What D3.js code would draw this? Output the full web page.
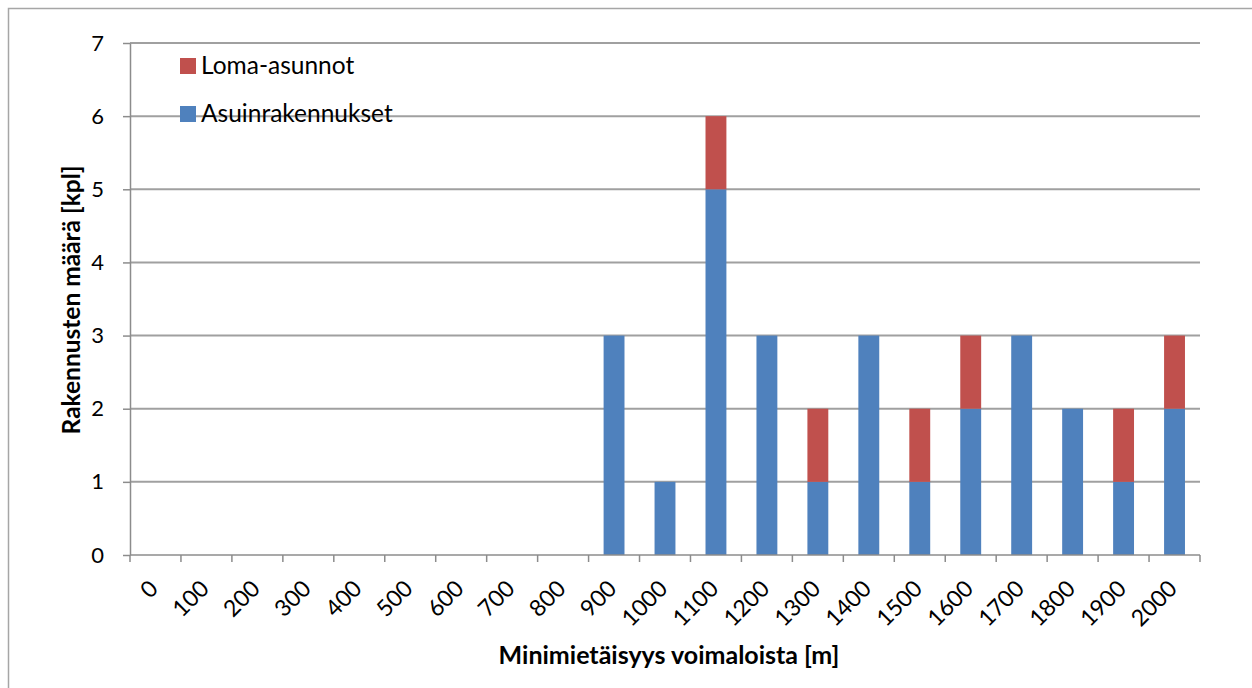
<!DOCTYPE html>
<html><head><meta charset="utf-8">
<script src="https://cdn.jsdelivr.net/npm/d3@7"></script>
<style>
html,body{margin:0;padding:0;background:#fff;}
svg{display:block;font-family:Lato,"Open Sans",sans-serif;}
</style></head>
<body>
<svg id="chart" width="1252" height="688"></svg>
<script>
const categories = ["0","100","200","300","400","500","600","700","800","900","1000","1100","1200","1300","1400","1500","1600","1700","1800","1900","2000"];
const asuinrakennukset = [0,0,0,0,0,0,0,0,0,3,1,5,3,1,3,1,2,3,2,1,2];
const lomaAsunnot      = [0,0,0,0,0,0,0,0,0,0,0,1,0,1,0,1,1,0,0,1,1];
const seriesNames = ["Asuinrakennukset","Loma-asunnot"];
const yTicks = [0,1,2,3,4,5,6,7];
const colors = {"Asuinrakennukset":"#4F81BD","Loma-asunnot":"#C0504D"};

const svg = d3.select("#chart");
const m = {left:130, right:1200, top:43, bottom:555};

// outer chart border
svg.append("rect").attr("x",8.5).attr("y",8.5).attr("width",1300).attr("height",800)
  .attr("fill","none").attr("stroke","#a6a6a6").attr("stroke-width",1.5);

const x = d3.scaleBand().domain(categories).range([m.left,m.right]).paddingInner(0.59).paddingOuter(0.295);
const y = d3.scaleLinear().domain([0,7]).range([m.bottom,m.top]);

// gridlines
svg.append("g").selectAll("line").data(yTicks.filter(d=>d>0)).join("line")
  .attr("x1",m.left).attr("x2",m.right).attr("y1",d=>y(d)).attr("y2",d=>y(d))
  .attr("stroke","#a0a0a0").attr("stroke-width",2);

// stacked data
const rows = categories.map((c,i)=>({cat:c,"Asuinrakennukset":asuinrakennukset[i],"Loma-asunnot":lomaAsunnot[i]}));
const stack = d3.stack().keys(seriesNames)(rows);
svg.append("g").selectAll("g").data(stack).join("g").attr("fill",d=>colors[d.key])
  .selectAll("rect").data(d=>d.filter(v=>v[1]-v[0]>0)).join("rect")
  .attr("x",d=>x(d.data.cat)).attr("width",x.bandwidth())
  .attr("y",d=>y(d[1])).attr("height",d=>y(d[0])-y(d[1]));

// y axis
const yAxis = d3.axisLeft(y).tickValues(yTicks).tickFormat(d3.format("d")).tickSize(7).tickSizeOuter(0).tickPadding(19);
const gy = svg.append("g").attr("transform",`translate(${m.left},0)`).call(yAxis);
gy.select(".domain").attr("stroke","#8c8c8c").attr("stroke-width",1.5);
gy.selectAll(".tick line").attr("stroke","#8c8c8c").attr("stroke-width",1.5);
gy.selectAll(".tick text").attr("font-size",22).attr("fill","#000").attr("font-family","Lato");

// x axis
const step = x.step();
const gx = svg.append("g").attr("transform",`translate(0,${m.bottom})`);
gx.append("line").attr("x1",m.left).attr("x2",m.right).attr("y1",0).attr("y2",0)
  .attr("stroke","#8c8c8c").attr("stroke-width",1.5);
const tickPos = d3.range(categories.length+1).map(i=>m.left + i*step);
gx.selectAll("line.t").data(tickPos).join("line").attr("class","t")
  .attr("x1",d=>d).attr("x2",d=>d).attr("y1",0).attr("y2",7)
  .attr("stroke","#8c8c8c").attr("stroke-width",1.5);
gx.selectAll("text").data(categories).join("text")
  .attr("transform",d=>`translate(${x(d)+x.bandwidth()/2+4},${35}) rotate(-45)`)
  .attr("text-anchor","end").attr("font-size",23).attr("fill","#000")
  .text(d=>d);

// axis titles
svg.append("text").attr("x",(m.left+m.right)/2+4).attr("y",664)
  .attr("text-anchor","middle").attr("font-weight","bold").attr("font-size",25)
  .text("Minimietäisyys voimaloista [m]");
svg.append("text").attr("transform","translate(80,300) rotate(-90)")
  .attr("text-anchor","middle").attr("font-weight","bold").attr("font-size",24.5)
  .text("Rakennusten määrä [kpl]");

// legend
const legendItems = ["Loma-asunnot","Asuinrakennukset"];
const lg = svg.append("g").selectAll("g").data(legendItems).join("g")
  .attr("transform",(d,i)=>`translate(180,${58+i*48})`);
lg.append("rect").attr("width",16).attr("height",16).attr("fill",d=>colors[d]);
lg.append("text").attr("x",21).attr("y",16).attr("font-size",24.5).attr("fill","#000").text(d=>d);
</script>
</body></html>
